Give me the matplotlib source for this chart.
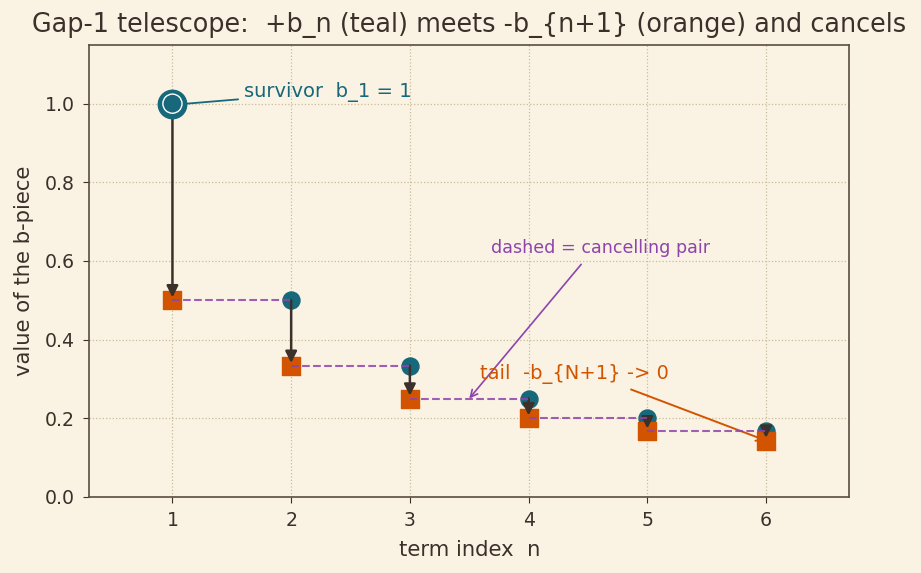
import matplotlib
matplotlib.use("Agg")
import matplotlib.pyplot as plt

plt.rcParams['font.family'] = ['DejaVu Sans']

n_vals = [1, 2, 3, 4, 5, 6]
b_plus = [1, 1/2, 1/3, 1/4, 1/5, 1/6]        # +b_n
b_minus = [1/2, 1/3, 1/4, 1/5, 1/6, 1/7]     # -b_{n+1}

bg = '#faf3e3'
teal = '#17687a'
orange = '#d35400'
purple = '#8e44ad'
dark = '#3b302a'

fig, ax = plt.subplots(figsize=(9.21, 5.73), dpi=100)
fig.patch.set_facecolor(bg)
ax.set_facecolor(bg)

# cancelling pairs: -b_{n+1} at n meets +b_{n+1} at n+1
for i in range(len(n_vals) - 1):
    ax.plot([n_vals[i], n_vals[i + 1]], [b_minus[i], b_plus[i + 1]],
            ls='--', color=purple, lw=1.5, alpha=0.85, zorder=5)

ax.scatter(n_vals, b_plus, s=150, color=teal, zorder=3)
ax.scatter(n_vals, b_minus, s=160, marker='s', color=orange, zorder=3)

# arrows from +b_n down to -b_{n+1}
for x, y0, y1 in zip(n_vals, b_plus, b_minus):
    ax.annotate('', xy=(x, y1), xytext=(x, y0),
                arrowprops=dict(arrowstyle='-|>', color=dark, lw=1.8,
                                mutation_scale=17, shrinkA=0, shrinkB=2),
                zorder=4)

# survivor ring
ax.scatter([1], [1], s=420, color=teal, zorder=6)
ax.scatter([1], [1], s=190, facecolor='none', edgecolor='white', lw=1.0, zorder=7)

ax.annotate('survivor  b_1 = 1', xy=(1.12, 1.0), xytext=(1.6, 1.03),
            color=teal, fontsize=14, va='center',
            arrowprops=dict(arrowstyle='-', color=teal, lw=1.3, shrinkA=2, shrinkB=0))
ax.annotate('dashed = cancelling pair', xy=(3.5, 0.25), xytext=(3.68, 0.632),
            color=purple, fontsize=12.6, va='center',
            arrowprops=dict(arrowstyle='->', color=purple, lw=1.2,
                            relpos=(0.44, 0.0), shrinkA=4, shrinkB=0))
ax.annotate('tail  -b_{N+1} -> 0', xy=(6, 1/7), xytext=(3.59, 0.313),
            color=orange, fontsize=14, va='center',
            arrowprops=dict(arrowstyle='->', color=orange, lw=1.4,
                            relpos=(0.72, 0.0), shrinkA=6, shrinkB=0))

ax.set_xlim(0.3, 6.7)
ax.set_ylim(0, 1.15)
ax.set_xticks(n_vals)
ax.set_yticks([0.0, 0.2, 0.4, 0.6, 0.8, 1.0])
ax.grid(True, ls=':', color='#c9bc9c', lw=0.9)
ax.set_axisbelow(True)
for sp in ax.spines.values():
    sp.set_color('#5a4d42')
    sp.set_linewidth(1.2)
ax.tick_params(colors=dark, labelsize=13.6, length=4.5, pad=6)

ax.set_xlabel('term index  n', fontsize=15.2, color=dark, labelpad=7)
ax.set_ylabel('value of the b-piece', fontsize=15.2, color=dark, labelpad=8)
ax.set_title('Gap-1 telescope:  +b_n (teal) meets -b_{n+1} (orange) and cancels',
             fontsize=18.4, color=dark, pad=9)

fig.subplots_adjust(left=0.097, right=0.922, top=0.922, bottom=0.133)
fig.savefig('out.png', dpi=100, facecolor=bg)
